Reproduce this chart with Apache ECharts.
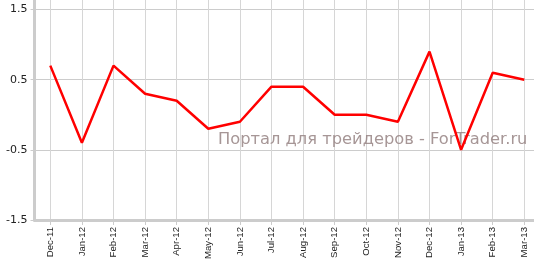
<!DOCTYPE html>
<html>
<head>
<meta charset="utf-8">
<style>html,body{margin:0;padding:0;background:#fff}#c{width:534px;height:259px}</style>
<script src="https://cdn.jsdelivr.net/npm/echarts@6/dist/echarts.min.js"></script>
</head>
<body>
<div id="c"></div>
<script>
var categories = ['Dec-11','Jan-12','Feb-12','Mar-12','Apr-12','May-12','Jun-12','Jul-12','Aug-12','Sep-12','Oct-12','Nov-12','Dec-12','Jan-13','Feb-13','Mar-13'];
var values = [0.7,-0.4,0.7,0.3,0.2,-0.2,-0.1,0.4,0.4,0.0,0.0,-0.1,0.9,-0.5,0.6,0.5];
var yMin = -1.5, yMax = 1.6357, yStep = 1;
var watermark = 'Портал для трейдеров - ForTrader.ru';

var chart = echarts.init(document.getElementById('c'), null, {renderer:'canvas'});
chart.setOption({
  animation: false,
  backgroundColor: '#fff',
  grid: [
    {left: 34.5, right: 0, top: 0, bottom: 39, containLabel: false, outerBoundsMode: 'none'},
    {left: 50.3, right: 9.7, top: 0, bottom: 39, containLabel: false, outerBoundsMode: 'none'}
  ],
  xAxis: [
    {gridIndex: 0, type: 'category', data: categories, boundaryGap: false,
     axisLine: {show: true, onZero: false, lineStyle: {color: '#cccccc', width: 3}},
     axisTick: {show: false}, axisLabel: {show: false}, splitLine: {show: false}},
    {gridIndex: 1, type: 'category', data: categories, boundaryGap: false,
     axisLine: {show: false, onZero: false},
     axisTick: {show: true, length: 5, lineStyle: {color: '#cccccc', width: 1}},
     axisLabel: {rotate: 90, margin: 7, fontFamily: 'Liberation Sans', fontSize: 9.6, color: '#222', interval: 0},
     splitLine: {show: true, lineStyle: {color: '#d6d6d6', width: 1}}}
  ],
  yAxis: [
    {gridIndex: 0, type: 'value', min: yMin, max: yMax, interval: yStep,
     axisLine: {show: true, onZero: false, lineStyle: {color: '#cccccc', width: 3}},
     axisTick: {show: true, length: 4, lineStyle: {color: '#cccccc'}},
     axisLabel: {showMaxLabel: false, margin: 7, fontFamily: 'DejaVu Sans', fontSize: 11, color: '#222',
       formatter: function(v){ return v.toFixed(1); }},
     splitLine: {show: true, showMaxLine: false, showMinLine: false, lineStyle: {color: '#cccccc', width: 1}}},
    {gridIndex: 1, type: 'value', min: yMin, max: yMax, show: false, splitLine: {show: false}}
  ],
  graphic: [{
    type: 'text', left: 218, top: 132, z: 1,
    style: {text: watermark, fontFamily: 'DejaVu Sans', fontSize: 16.3, fill: 'rgba(150,132,132,0.85)'}
  }],
  series: [{
    type: 'line', xAxisIndex: 1, yAxisIndex: 1, data: values,
    showSymbol: false, symbol: 'none', z: 3,
    lineStyle: {color: '#ff0000', width: 2.5}
  }]
});
</script>
</body>
</html>
